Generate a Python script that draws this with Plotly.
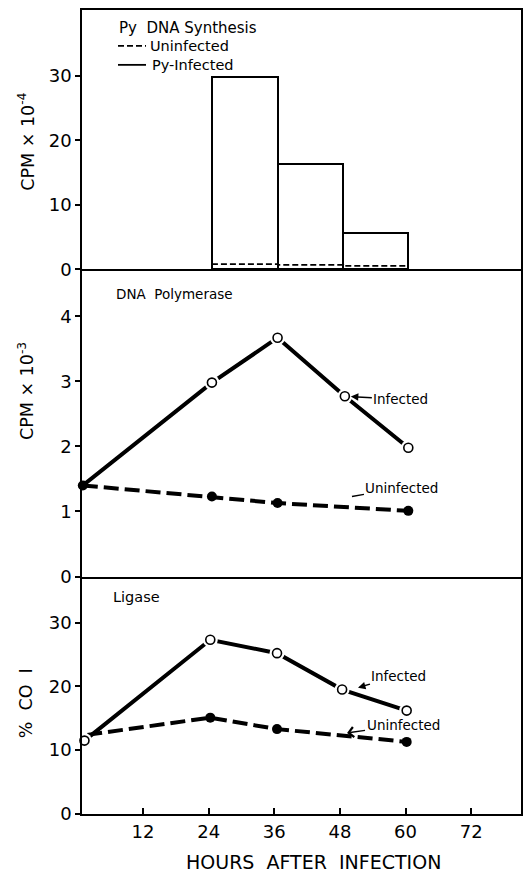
import plotly.graph_objects as go

# ---------------- data ----------------
# Panel 1: Py DNA synthesis (CPM x 10^-4), pulse intervals in hours
synth_edges = [24.6, 36.7, 48.6, 60.5]
synth_infected = [29.8, 16.4, 5.6]
synth_uninfected = [0.8, 0.7, 0.55]

# Panel 2: DNA polymerase (CPM x 10^-3)
poly_inf_hours = [1.0, 24.6, 36.6, 48.9, 60.5]
poly_infected = [1.4, 2.98, 3.67, 2.77, 1.98]
poly_uninf_hours = [1.0, 24.6, 36.6, 60.5]
poly_uninfected = [1.4, 1.23, 1.13, 1.01]

# Panel 3: Ligase (% CO I)
lig_inf_hours = [1.3, 24.3, 36.5, 48.4, 60.2]
lig_infected = [11.5, 27.3, 25.2, 19.5, 16.2]
lig_uninf_hours = [1.8, 24.3, 36.5, 60.2]
lig_uninfected = [12.4, 15.1, 13.3, 11.3]

x_ticks = [12, 24, 36, 48, 60, 72]
y1_ticks = [0, 10, 20, 30]
y2_ticks = [0, 1, 2, 3, 4]
y3_ticks = [0, 10, 20, 30]

# ---------------- styling ----------------
FONT = "DejaVu Sans"
BLACK = "black"
LW = 4
X_RANGE = [0.85, 81.1]

fig = go.Figure()

# Panel 1 bars
centers = [(a + b) / 2 for a, b in zip(synth_edges[:-1], synth_edges[1:])]
widths = [b - a for a, b in zip(synth_edges[:-1], synth_edges[1:])]
fig.add_trace(go.Bar(x=centers, y=synth_infected, width=widths,
                     marker=dict(color="rgba(0,0,0,0)", line=dict(color=BLACK, width=2)),
                     xaxis="x", yaxis="y", showlegend=False))
fig.add_trace(go.Scatter(x=synth_edges, y=synth_uninfected + [synth_uninfected[-1]],
                         mode="lines", line=dict(color=BLACK, width=1.8, dash="6px,3px", shape="hv"),
                         xaxis="x", yaxis="y", showlegend=False))


def add_panel(xa, ya, inf_h, inf_v, un_h, un_v, open_start, filled_start):
    # dashed uninfected
    fig.add_trace(go.Scatter(x=un_h, y=un_v, mode="lines",
                             line=dict(color=BLACK, width=LW, dash="15px,6px"),
                             xaxis=xa, yaxis=ya, showlegend=False, cliponaxis=False))
    # solid infected
    fig.add_trace(go.Scatter(x=inf_h, y=inf_v, mode="lines",
                             line=dict(color=BLACK, width=LW),
                             xaxis=xa, yaxis=ya, showlegend=False, cliponaxis=False))
    # white gap rings around open circles
    fig.add_trace(go.Scatter(x=inf_h[open_start:], y=inf_v[open_start:], mode="markers",
                             marker=dict(color="white", size=15, line=dict(width=0)),
                             xaxis=xa, yaxis=ya, showlegend=False, cliponaxis=False))
    # open circles
    fig.add_trace(go.Scatter(x=inf_h[open_start:], y=inf_v[open_start:], mode="markers",
                             marker=dict(color="white", size=9, line=dict(color=BLACK, width=1.6)),
                             xaxis=xa, yaxis=ya, showlegend=False, cliponaxis=False))
    # filled circles
    fig.add_trace(go.Scatter(x=un_h[filled_start:], y=un_v[filled_start:], mode="markers",
                             marker=dict(color=BLACK, size=10, line=dict(width=0)),
                             xaxis=xa, yaxis=ya, showlegend=False, cliponaxis=False))


add_panel("x2", "y2", poly_inf_hours, poly_infected, poly_uninf_hours, poly_uninfected, 1, 0)
add_panel("x3", "y3", lig_inf_hours, lig_infected, lig_uninf_hours, lig_uninfected, 0, 1)

# ---------------- layout ----------------
H, W = 872, 532
ML, MR, MT, MB = 82, 11, 8, 58
plot_h = H - MT - MB


def frac(py):
    return (H - MB - py) / plot_h


d1 = [frac(268), 1.0]
d2 = [frac(576), frac(268)]
d3 = [0.0, frac(576)]

common_x = dict(range=X_RANGE, showline=True, linecolor=BLACK, linewidth=1.5,
                showgrid=False, zeroline=False)
common_y = dict(showline=True, mirror=True, linecolor=BLACK, linewidth=1.5, showgrid=False,
                zeroline=False, ticks="outside", ticklen=5, tickwidth=1.5, tickcolor=BLACK,
                tickfont=dict(family=FONT, size=18, color=BLACK))

fig.update_layout(
    width=W, height=H,
    margin=dict(l=ML, r=MR, t=MT, b=MB),
    paper_bgcolor="white", plot_bgcolor="white",
    font=dict(family=FONT, color=BLACK),
    showlegend=False,
    bargap=0,
    xaxis=dict(**common_x, anchor="y", mirror=True, showticklabels=False, ticks=""),
    xaxis2=dict(**common_x, anchor="y2", mirror=False, showticklabels=False, ticks="",
                matches="x"),
    xaxis3=dict(**common_x, anchor="y3", mirror=False, matches="x", tickvals=x_ticks,
                ticks="inside", ticklen=6, tickwidth=1.5, tickcolor=BLACK, ticklabelstandoff=1,
                tickfont=dict(family=FONT, size=18, color=BLACK)),
    yaxis=dict(**common_y, domain=d1, range=[0, 40.2], tickvals=y1_ticks, anchor="x"),
    yaxis2=dict(**common_y, domain=d2, range=[0, 4.72], tickvals=y2_ticks, anchor="x2"),
    yaxis3=dict(**common_y, domain=d3, range=[0, 37.2], tickvals=y3_ticks, anchor="x3"),
)


def px(xp):
    return (xp - ML) / (W - ML - MR)


ann = []
# panel headers
ann.append(dict(text="Py  DNA Synthesis", x=px(117), y=frac(26), xref="paper", yref="paper",
                xanchor="left", yanchor="middle", showarrow=False, font=dict(size=15)))
ann.append(dict(text="Uninfected", x=px(148), y=frac(44), xref="paper", yref="paper",
                xanchor="left", yanchor="middle", showarrow=False, font=dict(size=14.5)))
ann.append(dict(text="Py-Infected", x=px(150), y=frac(63), xref="paper", yref="paper",
                xanchor="left", yanchor="middle", showarrow=False, font=dict(size=14.5)))
ann.append(dict(text="DNA  Polymerase", x=px(114), y=frac(293), xref="paper", yref="paper",
                xanchor="left", yanchor="middle", showarrow=False, font=dict(size=13.5)))
ann.append(dict(text="Ligase", x=px(111), y=frac(596), xref="paper", yref="paper",
                xanchor="left", yanchor="middle", showarrow=False, font=dict(size=14.5)))

# y-axis titles
ann.append(dict(text="CPM × 10<sup>-4</sup>", x=px(26), y=frac(140), xref="paper", yref="paper",
                xanchor="center", yanchor="middle", textangle=-90, showarrow=False,
                font=dict(size=17.5)))
ann.append(dict(text="CPM × 10<sup>-3</sup>", x=px(26), y=frac(390), xref="paper", yref="paper",
                xanchor="center", yanchor="middle", textangle=-90, showarrow=False,
                font=dict(size=17.5)))
ann.append(dict(text="%  CO  I", x=px(26), y=frac(703), xref="paper", yref="paper",
                xanchor="center", yanchor="middle", textangle=-90, showarrow=False,
                font=dict(size=17.5)))
# x-axis title
ann.append(dict(text="HOURS  AFTER  INFECTION", x=px(313), y=frac(862), xref="paper",
                yref="paper", xanchor="center", yanchor="middle", showarrow=False,
                font=dict(size=19)))

# curve labels
ann.append(dict(text="Infected", x=poly_inf_hours[3], y=poly_infected[3], xref="x2", yref="y2",
                ax=56, ay=3, showarrow=True, arrowhead=2, arrowsize=1, arrowwidth=1.5,
                arrowcolor=BLACK, standoff=6, font=dict(size=13.5)))
ann.append(dict(text="Uninfected", x=50.2, y=1.23, xref="x2", yref="y2",
                ax=50, ay=-9, showarrow=True, arrowhead=0, arrowwidth=1.5,
                arrowcolor=BLACK, font=dict(size=13.5)))
ann.append(dict(text="Infected", x=51.3, y=19.8, xref="x3", yref="y3",
                ax=41, ay=-12, showarrow=True, arrowhead=2, arrowsize=1, arrowwidth=1.5,
                arrowcolor=BLACK, font=dict(size=13.5)))
ann.append(dict(text="Uninfected", x=49.3, y=12.7, xref="x3", yref="y3",
                ax=56, ay=-8, showarrow=True, arrowhead=4, arrowsize=1.3, arrowwidth=1.5,
                arrowcolor=BLACK, font=dict(size=13.5)))
fig.update_layout(annotations=ann)

# legend key lines in panel 1
fig.add_shape(type="line", xref="paper", yref="paper", x0=px(118), x1=px(146),
              y0=frac(44), y1=frac(44), line=dict(color=BLACK, width=1.8, dash="6px,3px"))
fig.add_shape(type="line", xref="paper", yref="paper", x0=px(118), x1=px(146),
              y0=frac(63), y1=frac(63), line=dict(color=BLACK, width=1.8))

fig.write_html("out.html")
